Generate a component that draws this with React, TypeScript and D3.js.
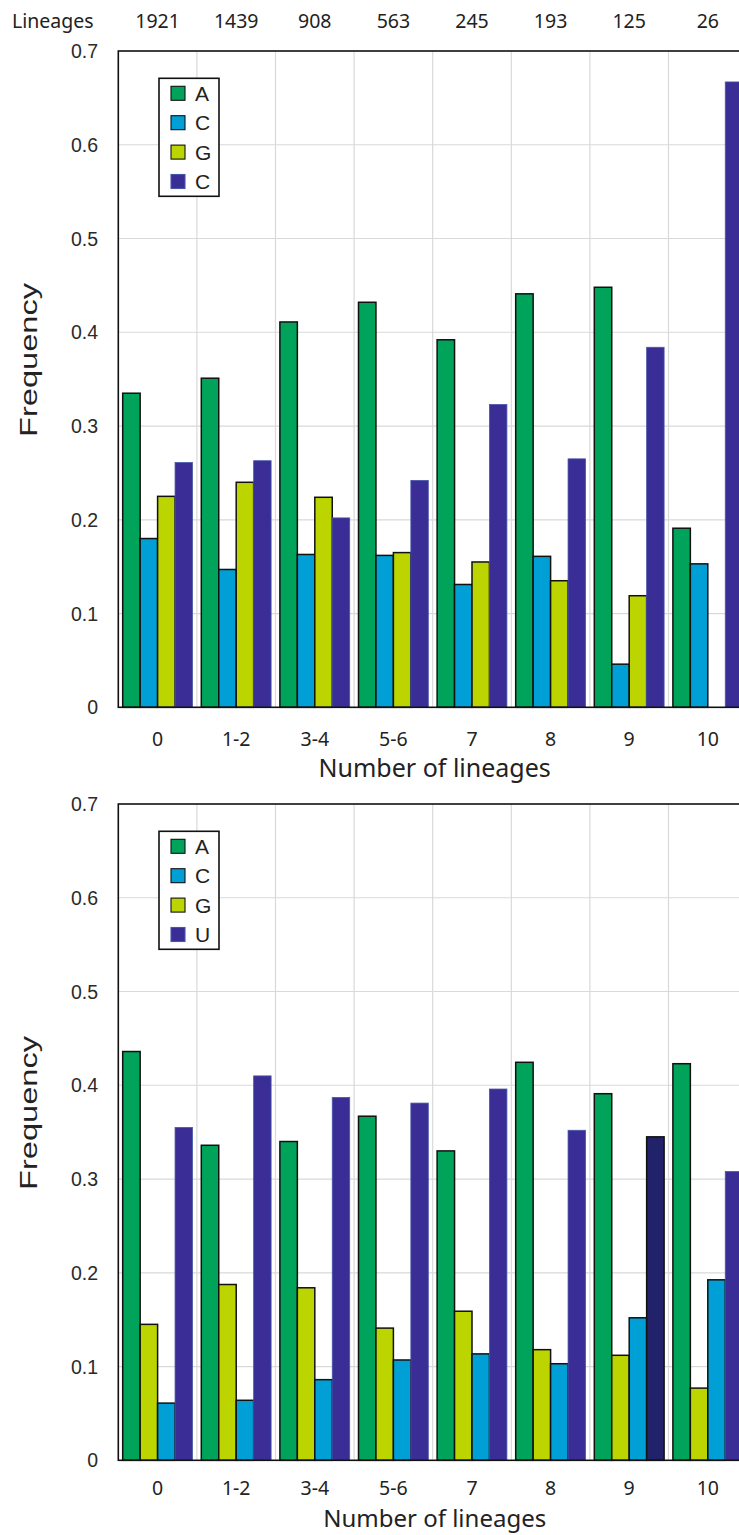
import React from "react";
import * as d3 from "d3";

const categories = ["0", "1-2", "3-4", "5-6", "7", "8", "9", "10"];
const lineageCounts = [1921, 1439, 908, 563, 245, 193, 125, 26];
const yTicks = [0, 0.1, 0.2, 0.3, 0.4, 0.5, 0.6, 0.7];

// Top panel (bar order: A, C, G, C)
const topA = [0.335, 0.351, 0.411, 0.432, 0.392, 0.441, 0.448, 0.191];
const topC = [0.18, 0.147, 0.163, 0.162, 0.131, 0.161, 0.046, 0.153];
const topG = [0.225, 0.24, 0.224, 0.165, 0.155, 0.135, 0.119, 0];
const topC2 = [0.261, 0.263, 0.202, 0.242, 0.323, 0.265, 0.384, 0.667];
const topLegend = ["A", "C", "G", "C"];

// Bottom panel (bar order: A, G, C, U)
const botA = [0.436, 0.336, 0.34, 0.367, 0.33, 0.4245, 0.391, 0.423];
const botG = [0.145, 0.1875, 0.184, 0.141, 0.159, 0.118, 0.112, 0.077];
const botC = [0.061, 0.064, 0.086, 0.107, 0.1135, 0.103, 0.152, 0.1925];
const botU = [0.355, 0.41, 0.387, 0.381, 0.396, 0.352, 0.345, 0.308];
const botLegend = ["A", "C", "G", "U"];
const highlightedU = ["9"];

const COLORS: Record<string, string> = {
  A: "#00a35a",
  C: "#00a0d6",
  G: "#bcd400",
  P: "#3a2e96",
  N: "#21226a",
};

const W = 739;
const H = 1535;
const LEFT = 118.3;
const BAND = 78.6;

type Series = { key: string; color: string; values: number[]; stroke: boolean };

function Panel({
  offsetY,
  tickY,
  titleY,
  titleSize,
  series,
  legend,
  legendColors,
  highlight,
}: {
  offsetY: number;
  tickY: number;
  titleY: number;
  titleSize: number;
  series: Series[];
  legend: string[];
  legendColors: string[];
  highlight?: string[];
}) {
  const top = 51 + offsetY;
  const bottom = 707.3 + offsetY;
  const x0 = d3
    .scaleBand<string>()
    .domain(categories)
    .range([LEFT, LEFT + BAND * categories.length])
    .paddingInner(0)
    .paddingOuter(0);
  const x1 = d3
    .scaleBand<string>()
    .domain(series.map((s) => s.key))
    .range([0, x0.bandwidth()])
    .paddingInner(0)
    .paddingOuter(0.252);
  const y = d3.scaleLinear().domain([0, 0.7]).range([bottom, top]);
  const right = LEFT + BAND * categories.length;
  const sansA = "'Liberation Sans', Arial, sans-serif";
  const sansB = "'Noto Sans', 'Open Sans', sans-serif";

  const legX = 159;
  const legY = 78.3 + offsetY;

  return (
    <g>
      {/* grid */}
      {yTicks.slice(1, -1).map((t) => (
        <line key={"h" + t} x1={LEFT} x2={right} y1={y(t)} y2={y(t)} stroke="#d9d9d9" strokeWidth={1.2} />
      ))}
      {categories.slice(1).map((c) => (
        <line key={"v" + c} x1={x0(c)!} x2={x0(c)!} y1={top} y2={bottom} stroke="#d9d9d9" strokeWidth={1.2} />
      ))}
      {/* bars */}
      {categories.map((c, i) => (
        <g key={c} transform={`translate(${x0(c)},0)`}>
          {series.map((s) => {
            const v = s.values[i];
            if (!v) return null;
            const isHi = s.key === "U" && highlight && highlight.includes(c);
            const fill = isHi ? COLORS.N : s.color;
            const stroked = s.stroke || isHi;
            return (
              <rect
                key={s.key}
                x={x1(s.key)!}
                y={y(v)}
                width={x1.bandwidth()}
                height={bottom - y(v)}
                fill={fill}
                stroke={stroked ? "#111" : "#4656a8"}
                strokeWidth={stroked ? 1.5 : 0.8}
              />
            );
          })}
        </g>
      ))}
      {/* frame */}
      <rect x={LEFT} y={top} width={right - LEFT} height={bottom - top} fill="none" stroke="#111" strokeWidth={1.6} />
      {/* y tick labels */}
      {yTicks.map((t) => (
        <text
          key={"t" + t}
          x={98}
          y={y(t)}
          textAnchor="end"
          dominantBaseline="central"
          fontFamily={sansA}
          fontSize={19.5}
          fill="#2a2a2a"
        >
          {t === 0 ? "0" : t.toFixed(1)}
        </text>
      ))}
      {/* y axis title */}
      <text
        transform={`translate(37,${360 + offsetY}) rotate(-90)`}
        textAnchor="middle"
        fontFamily={sansA}
        fontSize={23}
        textLength={154}
        lengthAdjust="spacingAndGlyphs"
        fill="#222"
      >
        Frequency
      </text>
      {/* x tick labels */}
      {categories.map((c) => (
        <text
          key={"x" + c}
          x={x0(c)! + x0.bandwidth() / 2}
          y={tickY}
          textAnchor="middle"
          dominantBaseline="central"
          fontFamily={sansB}
          fontSize={19.5}
          fill="#222"
        >
          {c}
        </text>
      ))}
      <text
        x={(LEFT + right) / 2 + 2}
        y={titleY}
        textAnchor="middle"
        dominantBaseline="central"
        fontFamily={sansB}
        fontSize={titleSize}
        fill="#222"
      >
        Number of lineages
      </text>
      {/* legend */}
      <rect x={legX} y={legY} width={60} height={118} fill="#fff" stroke="#111" strokeWidth={1.6} />
      {legend.map((l, i) => (
        <g key={"l" + i} transform={`translate(0,${legY + 15 + i * 29.4})`}>
          <rect x={171} y={-7} width={14} height={14} fill={legendColors[i]} stroke={i === 3 ? "#4656a8" : "#111"} strokeWidth={1.1} />
          <text x={195} y={0} dominantBaseline="central" fontFamily={sansA} fontSize={21} fill="#222">
            {l}
          </text>
        </g>
      ))}
    </g>
  );
}

export default function App() {
  const topSeries: Series[] = [
    { key: "A", color: COLORS.A, values: topA, stroke: true },
    { key: "C", color: COLORS.C, values: topC, stroke: true },
    { key: "G", color: COLORS.G, values: topG, stroke: true },
    { key: "C2", color: COLORS.P, values: topC2, stroke: false },
  ];
  const botSeries: Series[] = [
    { key: "A", color: COLORS.A, values: botA, stroke: true },
    { key: "G", color: COLORS.G, values: botG, stroke: true },
    { key: "C", color: COLORS.C, values: botC, stroke: true },
    { key: "U", color: COLORS.P, values: botU, stroke: false },
  ];
  const x0 = d3
    .scaleBand<string>()
    .domain(categories)
    .range([LEFT, LEFT + BAND * categories.length]);
  const legendColors = [COLORS.A, COLORS.C, COLORS.G, COLORS.P];
  return (
    <svg
      width={W}
      height={H}
      style={{ position: "absolute", left: 0, top: 0, display: "block", background: "#fff" }}
    >
      <text x={12} y={20} dominantBaseline="central" fontFamily="'Noto Sans', sans-serif" fontSize={19.5} fill="#222">
        Lineages
      </text>
      {lineageCounts.map((n, i) => (
        <text
          key={"n" + i}
          x={x0(categories[i])! + x0.bandwidth() / 2}
          y={20}
          textAnchor="middle"
          dominantBaseline="central"
          fontFamily="'Noto Sans', sans-serif"
          fontSize={19.5}
          fill="#222"
        >
          {n}
        </text>
      ))}
      <Panel
        offsetY={0}
        tickY={738}
        titleY={767}
        titleSize={25}
        series={topSeries}
        legend={topLegend}
        legendColors={legendColors}
      />
      <Panel
        offsetY={753}
        tickY={1487}
        titleY={1517}
        titleSize={24}
        series={botSeries}
        legend={botLegend}
        legendColors={legendColors}
        highlight={highlightedU}
      />
    </svg>
  );
}
